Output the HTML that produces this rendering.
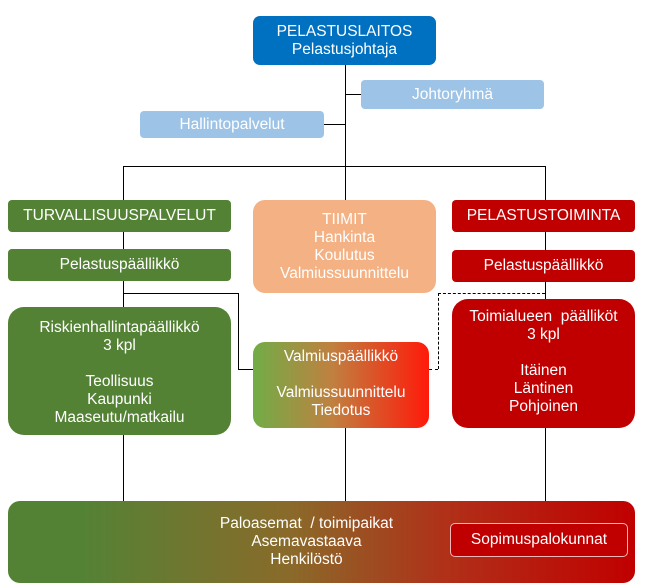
<!DOCTYPE html>
<html><head><meta charset="utf-8"><style>
body{margin:0;width:645px;height:588px;background:#fff;position:relative;overflow:hidden;font-family:"Liberation Sans Narrow","Liberation Sans",sans-serif;font-size:15.5px;line-height:18px;color:#fff}
.b{position:absolute;box-sizing:border-box;display:flex;flex-direction:column;align-items:center;justify-content:center;text-align:center}
.l{position:absolute;background:#000}
</style></head><body>
<!-- lines -->
<div class="l" style="left:345px;top:65px;width:1px;height:135px"></div>
<div class="l" style="left:345px;top:94px;width:16px;height:1px"></div>
<div class="l" style="left:324px;top:124px;width:21px;height:1px"></div>
<div class="l" style="left:123px;top:166px;width:422px;height:1px"></div>
<div class="l" style="left:123px;top:166px;width:1px;height:335px"></div>
<div class="l" style="left:545px;top:166px;width:1px;height:335px"></div>
<div class="l" style="left:345px;top:428px;width:1px;height:73px"></div>
<div class="l" style="left:123px;top:293px;width:115px;height:1px"></div>
<div class="l" style="left:238px;top:293px;width:1px;height:76px"></div>
<div class="l" style="left:238px;top:369px;width:15px;height:1px"></div>
<div style="position:absolute;left:438px;top:293px;width:107px;height:0;border-top:1px dashed #000"></div>
<div style="position:absolute;left:438px;top:293px;width:0;height:76px;border-left:1px dashed #000"></div>
<div style="position:absolute;left:429px;top:369px;width:9px;height:0;border-top:1px dashed #000"></div>

<div class="b" style="left:253px;top:16px;width:183px;height:49px;background:#0070c0;border-radius:7px">PELASTUSLAITOS<br>Pelastusjohtaja</div>
<div class="b" style="left:361px;top:80px;width:183px;height:29px;background:#9dc3e6;border-radius:4px">Johtoryhmä</div>
<div class="b" style="left:140px;top:111px;width:184px;height:27px;background:#9dc3e6;border-radius:4px">Hallintopalvelut</div>

<div class="b" style="left:8px;top:200px;width:223px;height:32px;background:#548235;border-radius:4px">TURVALLISUUSPALVELUT</div>
<div class="b" style="left:8px;top:249px;width:223px;height:32px;background:#548235;border-radius:4px">Pelastuspäällikkö</div>
<div class="b" style="left:253px;top:200px;width:183px;height:93px;background:#f4b183;border-radius:12px">TIIMIT<br>Hankinta<br>Koulutus<br>Valmiussuunnittelu</div>
<div class="b" style="left:452px;top:200px;width:183px;height:32px;background:#c00000;border-radius:4px">PELASTUSTOIMINTA</div>
<div class="b" style="left:452px;top:250px;width:183px;height:32px;background:#c00000;border-radius:4px">Pelastuspäällikkö</div>

<div class="b" style="left:8px;top:307px;width:223px;height:128px;background:#548235;border-radius:16px;justify-content:flex-start;padding-top:12px">Riskienhallintapäällikkö<br>3 kpl<br><br>Teollisuus<br>Kaupunki<br>Maaseutu/matkailu</div>
<div class="b" style="left:253px;top:342px;width:176px;height:86px;background:linear-gradient(90deg,#70ad47 0%,#c08040 45%,#ff1a0a 100%);border-radius:12px;justify-content:flex-start;padding-top:6px">Valmiuspäällikkö<br><br>Valmiussuunnittelu<br>Tiedotus</div>
<div class="b" style="left:452px;top:299px;width:183px;height:129px;background:#c00000;border-radius:16px;justify-content:flex-start;padding-top:9px">Toimialueen&nbsp; päälliköt<br>3 kpl<br><br>Itäinen<br>Läntinen<br>Pohjoinen</div>

<div class="b" style="left:8px;top:501px;width:627px;height:82px;background:linear-gradient(90deg,#548235 0%,#548235 12%,#8a6a2a 45%,#b03018 70%,#c00000 100%);border-radius:12px;padding-right:150px;padding-left:120px">Paloasemat&nbsp; / toimipaikat<br>Asemavastaava<br>Henkilöstö</div>
<div class="b" style="left:450px;top:523px;width:178px;height:34px;background:#c00000;border:1.5px solid #f4b6b6;border-radius:5px">Sopimuspalokunnat</div>
</body></html>
